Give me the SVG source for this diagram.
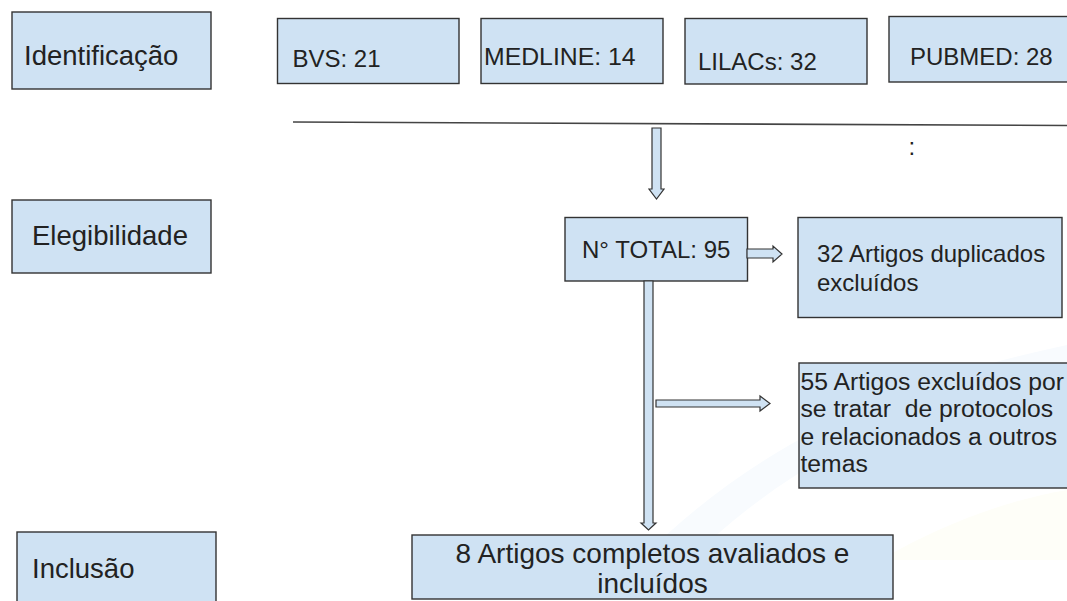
<svg xmlns="http://www.w3.org/2000/svg" width="1067" height="601" viewBox="0 0 1067 601">
<style>
.box{fill:#cfe2f3;stroke:#333;stroke-width:1.4}
.arr{fill:#cfe2f3;stroke:#333;stroke-width:1.2;stroke-linejoin:miter}
text{font-family:"Liberation Sans",Arial,sans-serif;fill:#222;white-space:pre}
.lab{font-size:27.5px}
.s{font-size:24px}
.m{font-size:24.7px}
.b{font-size:28px}
</style>
<rect width="1067" height="601" fill="#fff"/>
<path d="M640,560 C760,440 900,380 1067,345 L1067,370 C920,400 790,460 690,560 Z" fill="#f8fbfe"/>
<path d="M880,560 C950,520 1010,500 1067,490 L1067,560 Z" fill="#fefef8"/>
<g id="identificacao"><rect class="box" x="12" y="12" width="199" height="77"/><text class="lab" x="24" y="65">Identificação</text></g>
<g id="bvs"><rect class="box" x="277.5" y="18.5" width="181.5" height="65"/><text class="s" x="292.5" y="67">BVS: 21</text></g>
<g id="medline"><rect class="box" x="481" y="18.5" width="182" height="65"/><text class="s" x="484" y="65" style="font-size:24.8px">MEDLINE: 14</text></g>
<g id="lilacs"><rect class="box" x="685" y="18.5" width="182" height="65.5"/><text class="s" x="698" y="70">LILACs: 32</text></g>
<g id="pubmed"><rect class="box" x="889" y="16.5" width="190" height="65.5"/><text class="s" x="910" y="65">PUBMED: 28</text></g>
<g id="divider"><line x1="293" y1="122" x2="1067" y2="125.5" stroke="#444" stroke-width="1.6"/><text x="908.5" y="155" style="font-size:24px">:</text></g>
<g id="elegibilidade"><rect class="box" x="12" y="200" width="199" height="73"/><text class="lab" x="32" y="245">Elegibilidade</text></g>
<g id="total"><rect class="box" x="565" y="217.5" width="182.5" height="63.5"/><text class="s" x="582" y="258">N° TOTAL: 95</text></g>
<g id="duplicados"><rect class="box" x="798" y="217.5" width="264" height="100"/><text class="s" x="817" y="262">32 Artigos duplicados</text><text class="s" x="817" y="291">excluídos</text></g>
<g id="excluidos"><rect class="box" x="799" y="363" width="280" height="125"/><text class="m" x="800.5" y="389.5">55 Artigos excluídos por</text><text class="m" x="800.5" y="417">se tratar  de protocolos</text><text class="m" x="800.5" y="444.5">e relacionados a outros</text><text class="m" x="800.5" y="472">temas</text></g>
<g id="inclusao"><rect class="box" x="17" y="532" width="199" height="80"/><text class="lab" x="32" y="578">Inclusão</text></g>
<g id="incluidos"><rect class="box" x="412" y="535" width="481" height="64"/><text class="b" x="652.5" y="563" text-anchor="middle">8 Artigos completos avaliados e</text><text class="b" x="652.5" y="593" text-anchor="middle">incluídos</text></g>
<g id="connectors">
<polygon class="arr" points="652,128 661,128 661,189 664,189 656.5,199 649,189 652,189"/>
<polygon class="arr" points="747,249 773,249 773,246 782,254 773,262 773,258 747,258"/>
<polygon class="arr" points="644,281 653,281 653,523 656,523 648.5,530 641,523 644,523"/>
<polygon class="arr" points="656,400 760,400 760,396 770,403.5 760,411 760,407 656,407"/>
</g>
</svg>
